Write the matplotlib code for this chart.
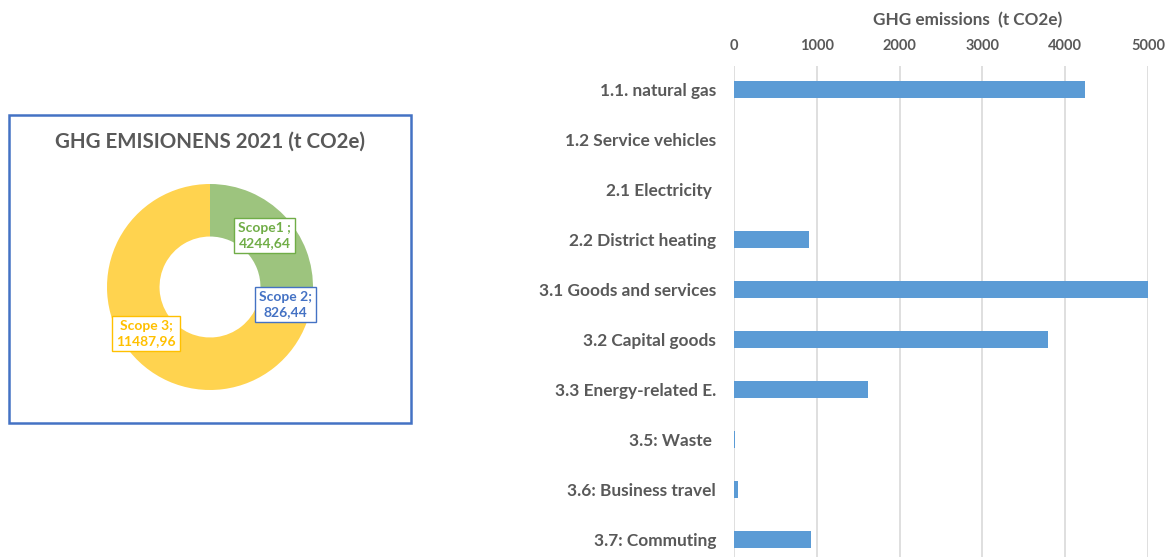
import matplotlib

matplotlib.use("Agg")
import matplotlib.pyplot as plt
from matplotlib.patches import Rectangle

# donut data
scope_names = ["Scope1 ;", "Scope 2;", "Scope 3;"]
scope_values = [4244.64, 826.44, 11487.96]
scope_colors = ["#9DC47E", "#4472C4", "#FFD34F"]
label_colors = ["#70AD47", "#4472C4", "#FFC000"]

# bar data
categories = [
    "1.1. natural gas",
    "1.2 Service vehicles",
    "2.1 Electricity ",
    "2.2 District heating",
    "3.1 Goods and services",
    "3.2 Capital goods",
    "3.3 Energy-related E.",
    "3.5: Waste ",
    "3.6: Business travel",
    "3.7: Commuting",
]
emissions = [4244.64, 0, 0, 900, 5090, 3790, 1615, 12, 48, 930]
x_ticks = [0, 1000, 2000, 3000, 4000, 5000]

W, H = 1173, 557
plt.rcParams["font.family"] = ["Lato", "DejaVu Sans"]
fig = plt.figure(figsize=(W / 100, H / 100), dpi=100)
text_grey = "#595959"


def fx(px):
    return px / W


def fy(py):
    return 1 - py / H


# ---- left panel: donut ----
fig.patches.append(
    Rectangle((fx(9), fy(423)), fx(402), (423 - 115) / H, transform=fig.transFigure,
              fill=False, edgecolor="#4472C4", linewidth=1.8)
)
fig.text(fx(210), fy(142), "GHG EMISIONENS 2021 (t CO2e)", ha="center", va="center",
         fontsize=14.8, fontweight="bold", color=text_grey)

cx, cy, r = 210, 287, 103
half = 1.2 * r
ax1 = fig.add_axes([fx(cx - half), fy(cy + half), 2 * half / W, 2 * half / H])
ax1.pie(scope_values, colors=scope_colors, startangle=90, counterclock=False, radius=1,
        wedgeprops={"width": 0.51, "linewidth": 0})
ax1.set_xlim(-1.2, 1.2)
ax1.set_ylim(-1.2, 1.2)
ax1.set_aspect("equal")
ax1.axis("off")

label_pos = [(0.53, 0.50), (0.73, -0.17), (-0.62, -0.45)]
for name, val, col, (lx, ly) in zip(scope_names, scope_values, label_colors, label_pos):
    txt = f"{name}\n{val:.2f}".replace(".", ",")
    ax1.text(lx, ly, txt, ha="center", va="center", fontsize=10, fontweight="bold",
             color=col, linespacing=1.3,
             bbox={"boxstyle": "square,pad=0.3", "facecolor": "white", "edgecolor": col,
                   "linewidth": 1})

# ---- right panel: bars ----
ax2 = fig.add_axes([fx(734), 0, fx(1148 - 734), fy(66)])
pos = list(range(len(categories)))
ax2.barh(pos, emissions, height=0.34, color="#5B9BD5", zorder=3)
ax2.set_xlim(0, 5000)
ax2.set_ylim(9.36, -0.48)
ax2.set_yticks(pos)
ax2.set_yticklabels(categories, fontsize=12.4, fontweight="bold", color=text_grey)
ax2.set_xticks(x_ticks)
ax2.set_xticklabels([str(t) for t in x_ticks], fontsize=10.5, fontweight="bold", color=text_grey)
ax2.xaxis.tick_top()
ax2.tick_params(length=0)
ax2.tick_params(axis="y", pad=13)
ax2.tick_params(axis="x", pad=9)
ax2.grid(axis="x", color="#D9D9D9", linewidth=1.2, zorder=0)
for s in ax2.spines.values():
    s.set_visible(False)
fig.text(fx(968), fy(20), "GHG emissions  (t CO2e)", ha="center", va="center",
         fontsize=12.3, fontweight="bold", color=text_grey)

fig.savefig("out.png", dpi=100)
